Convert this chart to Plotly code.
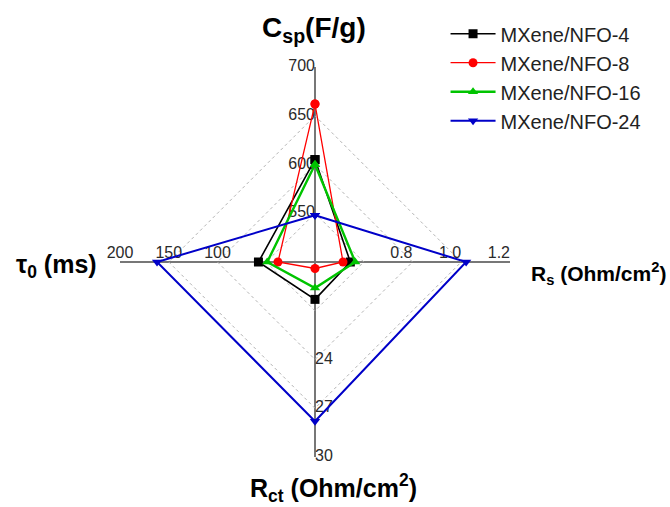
import plotly.graph_objects as go

# ---- data ----
axes_keys = ["Csp", "Rs", "Rct", "tau0"]
axis_min = [500, 0.4, 18, 0]
axis_max = [700, 1.2, 30, 200]
tick_vals = {
    "Csp": [550, 600, 650, 700],
    "Rs": [0.8, 1.0, 1.2],
    "Rct": [24, 27, 30],
    "tau0": [100, 150, 200],
}
tick_text = {
    "Csp": ["550", "600", "650", "700"],
    "Rs": ["0.8", "1.0", "1.2"],
    "Rct": ["24", "27", "30"],
    "tau0": ["100", "150", "200"],
}
series_names = ["MXene/NFO-4", "MXene/NFO-8", "MXene/NFO-16", "MXene/NFO-24"]
csp = [605, 662, 600, 548]
rs = [0.545, 0.515, 0.565, 1.02]
rct = [20.3, 18.4, 19.6, 27.8]
tau0 = [58, 38, 49, 162]

colors = ["#000000", "#ff0000", "#00c400", "#0000c8"]
symbols = ["square", "circle", "triangle-up", "triangle-down"]
widths = [1.6, 1.3, 2.4, 2.0]


def norm(v, i):
    return (v - axis_min[i]) / (axis_max[i] - axis_min[i])


fig = go.Figure()

# tick label traces
tpos = {"Csp": "middle left", "Rs": "top left", "Rct": "middle right", "tau0": "top center"}
for i, k in enumerate(axes_keys):
    fig.add_trace(go.Scatterpolar(
        r=[norm(v, i) for v in tick_vals[k]],
        theta=[k] * len(tick_vals[k]),
        mode="text",
        text=tick_text[k],
        textposition=tpos[k],
        textfont=dict(family="Liberation Sans, Arial", size=16, color="#2a2a2a"),
        showlegend=False,
        hoverinfo="skip",
        cliponaxis=False,
    ))

for j, name in enumerate(series_names):
    vals = [csp[j], rs[j], rct[j], tau0[j]]
    r = [norm(v, i) for i, v in enumerate(vals)]
    fig.add_trace(go.Scatterpolar(
        r=r + [r[0]],
        theta=axes_keys + [axes_keys[0]],
        mode="lines+markers",
        name=name,
        line=dict(color=colors[j], width=widths[j]),
        marker=dict(symbol=symbols[j], size=9, color=colors[j]),
        cliponaxis=False,
    ))

cx, cy, R = 315, 262, 195
W, H = 670, 507
fig.update_layout(
    width=W, height=H,
    margin=dict(l=0, r=0, t=0, b=0),
    paper_bgcolor="white",
    font=dict(family="Liberation Sans, Arial", color="#000000"),
    polar=dict(
        domain=dict(x=[(cx - R) / W, (cx + R) / W], y=[(H - cy - R) / H, (H - cy + R) / H]),
        gridshape="linear",
        bgcolor="white",
        radialaxis=dict(range=[0, 1], tickvals=[0.25, 0.5, 0.75, 1.0], showticklabels=False,
                        ticks="", showline=False, gridcolor="#b4b4b4", griddash="dot", gridwidth=1.2),
        angularaxis=dict(rotation=90, direction="clockwise", showticklabels=False, ticks="",
                         showline=False, gridcolor="#777777", gridwidth=1.8),
    ),
    legend=dict(x=0.665, y=0.972, xanchor="left", yanchor="top", itemwidth=45,
                font=dict(size=20, color="#222222"), bgcolor="rgba(0,0,0,0)", tracegroupgap=0),
    annotations=[
        dict(text="<b>C<sub>sp</sub>(F/g)</b>", x=314 / W, y=1 - 30 / H, xref="paper", yref="paper",
             xanchor="center", yanchor="middle", showarrow=False, font=dict(size=28)),
        dict(text="<b>R<sub>s</sub> (Ohm/cm<sup>2</sup>)</b>", x=668 / W, y=1 - 273 / H, xref="paper", yref="paper",
             xanchor="right", yanchor="middle", showarrow=False, font=dict(size=21)),
        dict(text="<b>R<sub>ct</sub> (Ohm/cm<sup>2</sup>)</b>", x=333 / W, y=1 - 488 / H, xref="paper", yref="paper",
             xanchor="center", yanchor="middle", showarrow=False, font=dict(size=25)),
        dict(text="<b>τ<sub>0</sub> (ms)</b>", x=56 / W, y=1 - 266 / H, xref="paper", yref="paper",
             xanchor="center", yanchor="middle", showarrow=False, font=dict(size=25)),
    ],
)

fig.write_html("out.html")
